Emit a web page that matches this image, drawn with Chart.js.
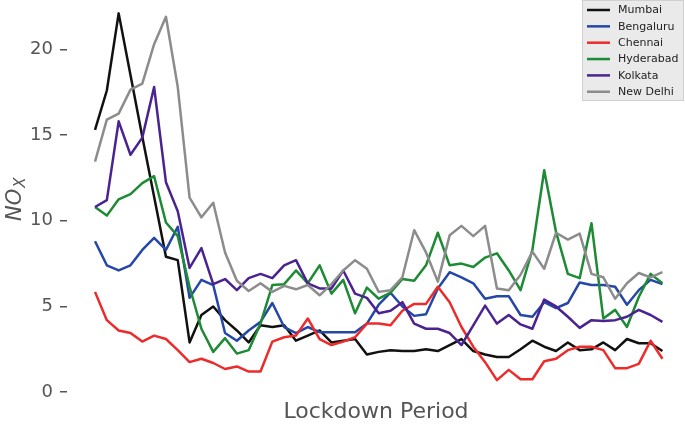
<!DOCTYPE html>
<html>
<head>
<meta charset="utf-8">
<script src="https://cdn.jsdelivr.net/npm/chart.js@4/dist/chart.umd.min.js"></script>
<style>
  html, body { margin: 0; padding: 0; background: #fff; }
  #wrap { width: 685px; height: 425px; }
</style>
</head>
<body>
<div id="wrap"><canvas id="chart" width="685" height="425"></canvas></div>
<script>
// day index of the lockdown period (no tick labels shown on the x axis)
const days = Array.from({ length: 49 }, (_, i) => i)

const cities = ["Mumbai", "Bengaluru", "Chennai", "Hyderabad", "Kolkata", "New Delhi"]
const colors = ["#111111", "#2447a8", "#ee2b2b", "#1d8a34", "#4a2390", "#8c8c8c"]

const mumbai = [15.3, 17.6, 22.1, 18.5, 14.9, 11.4, 7.9, 7.7, 2.9, 4.5, 5.0, 4.2, 3.6, 2.9, 3.9, 3.8, 3.9, 3.0,
  3.3, 3.6, 2.9, 3.0, 3.1, 2.2, 2.35, 2.45, 2.4, 2.4, 2.5, 2.4, 2.75, 3.1, 2.4, 2.2, 2.05, 2.05, 2.5, 3.0,
  2.65, 2.4, 2.9, 2.45, 2.5, 2.9, 2.45, 3.1, 2.85, 2.85, 2.4]
const bengaluru = [8.8, 7.4, 7.1, 7.4, 8.3, 9.0, 8.3, 9.65, 5.5, 6.55, 6.25, 3.45, 3.0, 3.6, 4.1, 5.2, 3.8, 3.45,
  3.8, 3.5, 3.5, 3.5, 3.5, 4.0, 5.1, 5.8, 5.0, 4.45, 4.55, 6.05, 7.0, 6.7, 6.35, 5.45, 5.6, 5.6, 4.5, 4.4,
  5.25, 4.9, 5.2, 6.4, 6.25, 6.25, 6.15, 5.1, 5.95, 6.55, 6.3]
const chennai = [5.85, 4.2, 3.6, 3.45, 2.95, 3.3, 3.1, 2.45, 1.75, 1.95, 1.7, 1.35, 1.5, 1.2, 1.2, 2.95, 3.2, 3.3,
  4.3, 3.1, 2.75, 2.95, 3.2, 4.0, 4.0, 3.9, 4.75, 5.15, 5.15, 6.15, 5.25, 3.8, 2.65, 1.75, 0.7, 1.3, 0.75, 0.75,
  1.8, 1.95, 2.45, 2.65, 2.65, 2.45, 1.4, 1.4, 1.65, 3.0, 1.95]
const hyderabad = [10.8, 10.3, 11.25, 11.55, 12.2, 12.6, 9.9, 9.1, 6.15, 3.7, 2.35, 3.15, 2.25, 2.45, 4.0, 6.25, 6.3, 7.1,
  6.35, 7.4, 5.75, 6.55, 4.6, 6.1, 5.45, 5.8, 6.6, 6.5, 7.4, 9.3, 7.4, 7.5, 7.3, 7.85, 8.1, 7.1, 5.95, 8.3,
  12.95, 9.35, 6.9, 6.65, 9.85, 4.3, 4.8, 3.8, 5.55, 6.9, 6.35]
const kolkata = [10.8, 11.2, 15.8, 13.85, 14.85, 17.8, 12.25, 10.55, 7.25, 8.4, 6.3, 6.6, 5.95, 6.65, 6.9, 6.65, 7.4, 7.7,
  6.35, 6.05, 6.05, 7.1, 5.75, 5.5, 4.6, 4.75, 5.25, 4.0, 3.7, 3.7, 3.45, 2.75, 3.9, 5.05, 4.0, 4.5, 3.95, 3.7,
  5.4, 5.0, 4.4, 3.75, 4.2, 4.15, 4.2, 4.4, 4.8, 4.5, 4.1]
const newDelhi = [13.45, 15.9, 16.25, 17.65, 18.0, 20.3, 21.9, 17.8, 11.35, 10.2, 11.05, 8.15, 6.5, 5.9, 6.35, 5.85, 6.2, 6.0,
  6.25, 5.65, 6.3, 7.1, 7.7, 7.2, 5.85, 5.95, 6.7, 9.45, 8.15, 6.45, 9.15, 9.7, 9.1, 9.7, 6.05, 5.95, 6.85, 8.2,
  7.2, 9.3, 8.9, 9.25, 6.9, 6.7, 5.45, 6.35, 6.95, 6.7, 7.0]

const yTicks = [0, 5, 10, 15, 20]
const series = [mumbai, bengaluru, chennai, hyderabad, kolkata, newDelhi]

const textGrey = "#555555"

// y axis title NO_X, drawn rotated with a subscript
const yTitle = {
  id: "yTitle",
  afterDraw(chart) {
    const ctx = chart.ctx
    ctx.save()
    ctx.fillStyle = textGrey
    ctx.translate(21, 221)
    ctx.rotate(-Math.PI / 2)
    ctx.textBaseline = "alphabetic"
    ctx.textAlign = "left"
    ctx.font = "italic 21px 'DejaVu Sans'"
    ctx.fillText("NO", 0, 0)
    const w = ctx.measureText("NO").width
    ctx.font = "italic 15px 'DejaVu Sans'"
    ctx.fillText("X", w + 1, 4)
    ctx.restore()
  }
}

// boxed legend in the top right corner
const boxLegend = {
  id: "boxLegend",
  afterDraw(chart) {
    const ctx = chart.ctx
    ctx.save()
    ctx.fillStyle = "#eaeaea"
    ctx.strokeStyle = "#d0d0d0"
    ctx.lineWidth = 1
    ctx.fillRect(582, 0, 102, 101)
    ctx.strokeRect(582.5, 0.5, 101, 100)
    ctx.font = "11px 'DejaVu Sans'"
    ctx.textBaseline = "middle"
    chart.data.datasets.forEach((ds, i) => {
      const y = 10 + i * 16.35
      ctx.strokeStyle = ds.borderColor
      ctx.lineWidth = 2.5
      ctx.beginPath()
      ctx.moveTo(587, y)
      ctx.lineTo(610, y)
      ctx.stroke()
      ctx.fillStyle = "#222222"
      ctx.fillText(ds.label, 618, y + 0.5)
    })
    ctx.restore()
  }
}

new Chart(document.getElementById("chart"), {
  type: "line",
  data: {
    datasets: cities.map((name, i) => ({
      label: name,
      data: days.map((d, j) => ({ x: d, y: series[i][j] })),
      borderColor: colors[i],
      backgroundColor: colors[i],
      borderWidth: 2.5,
      borderJoinStyle: "round",
      pointRadius: 0,
      tension: 0,
      order: cities.length - i
    }))
  },
  options: {
    responsive: false,
    animation: false,
    layout: { padding: 0 },
    plugins: { legend: { display: false }, tooltip: { enabled: false } },
    scales: {
      x: {
        type: "linear",
        min: -2.37,
        max: 49.91,
        grid: { display: false },
        border: { display: false },
        ticks: { display: false },
        title: {
          display: true,
          text: "Lockdown Period",
          color: textGrey,
          font: { family: "'DejaVu Sans'", size: 22 },
          padding: 0
        },
        afterFit(scale) {
          scale.height = 26
          scale.paddingLeft = 0
          scale.paddingRight = 0
        }
      },
      y: {
        min: -0.4,
        max: 22.88,
        afterBuildTicks(scale) { scale.ticks = yTicks.map(v => ({ value: v })) },
        grid: { drawOnChartArea: false, drawTicks: true, tickLength: 7, color: textGrey, lineWidth: 1.5 },
        border: { display: false },
        ticks: {
          color: textGrey,
          padding: 7,
          font: { family: "'DejaVu Sans'", size: 18 }
        },
        afterFit(scale) {
          scale.width = 67
          scale.paddingTop = 0
          scale.paddingBottom = 0
        }
      }
    }
  },
  plugins: [yTitle, boxLegend]
})
</script>
</body>
</html>
